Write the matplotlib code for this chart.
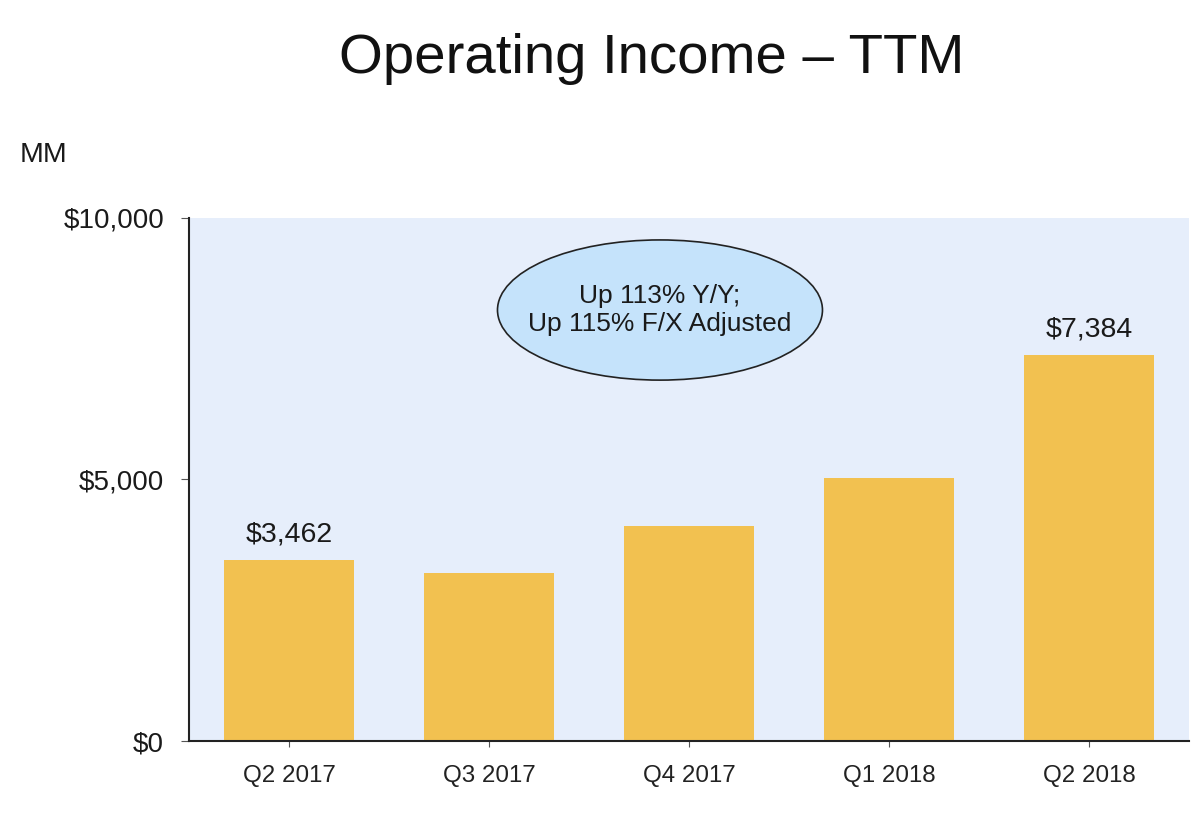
import matplotlib.pyplot as plt
from matplotlib.patches import Ellipse

# quarterly TTM operating income, $MM
quarters = ["Q2 2017", "Q3 2017", "Q4 2017", "Q1 2018", "Q2 2018"]
income = [3462, 3210, 4106, 5020, 7384]
shown_labels = {0: "$3,462", 4: "$7,384"}
yticks = [0, 5000, 10000]
ytick_labels = ["$0", "$5,000", "$10,000"]

plt.rcParams['font.family'] = ['Liberation Sans', 'DejaVu Sans']

fig = plt.figure(figsize=(12, 8.25), dpi=100)
ax = fig.add_axes([0.1575, 0.1018, 0.8333, 0.634])
ax.set_facecolor("#e6eefb")

x = range(len(quarters))
ax.bar(x, income, width=0.65, color="#f2c150", zorder=2)
for i, txt in shown_labels.items():
    ax.text(i, income[i] + 230, txt, ha="center", va="bottom", fontsize=20.5, color="#1a1a1a")

ax.set_xlim(-0.5, 4.5)
ax.set_ylim(0, 10000)
ax.set_xticks(list(x))
ax.set_xticklabels(quarters, fontsize=17.4, color="#222222")
ax.set_yticks(yticks)
ax.set_yticklabels(ytick_labels, fontsize=20, color="#1a1a1a")
ax.tick_params(axis="x", length=4, pad=13, color="#555555")
ax.tick_params(axis="y", length=6, pad=12, color="#555555")
for s in ["top", "right"]:
    ax.spines[s].set_visible(False)
ax.spines["left"].set_color("#222222")
ax.spines["bottom"].set_color("#222222")
ax.spines["left"].set_linewidth(1.5)
ax.spines["bottom"].set_linewidth(1.5)

ell = Ellipse((1.855, 8240), 1.625, 2680, facecolor="#c5e3fb", edgecolor="#222222", lw=1.2, zorder=3)
ax.add_patch(ell)
ax.text(1.855, 8240, "Up 113% Y/Y;\nUp 115% F/X Adjusted", ha="center", va="center",
        fontsize=19, color="#1a1a1a", linespacing=1.2, zorder=4)

fig.text(0.543, 0.929, "Operating Income \u2013 TTM", ha="center", va="center", fontsize=40.6, color="#111111")
fig.text(0.016, 0.812, "MM", ha="left", va="center", fontsize=20.5, color="#1a1a1a")

plt.savefig("out.png", dpi=100)
plt.close()
